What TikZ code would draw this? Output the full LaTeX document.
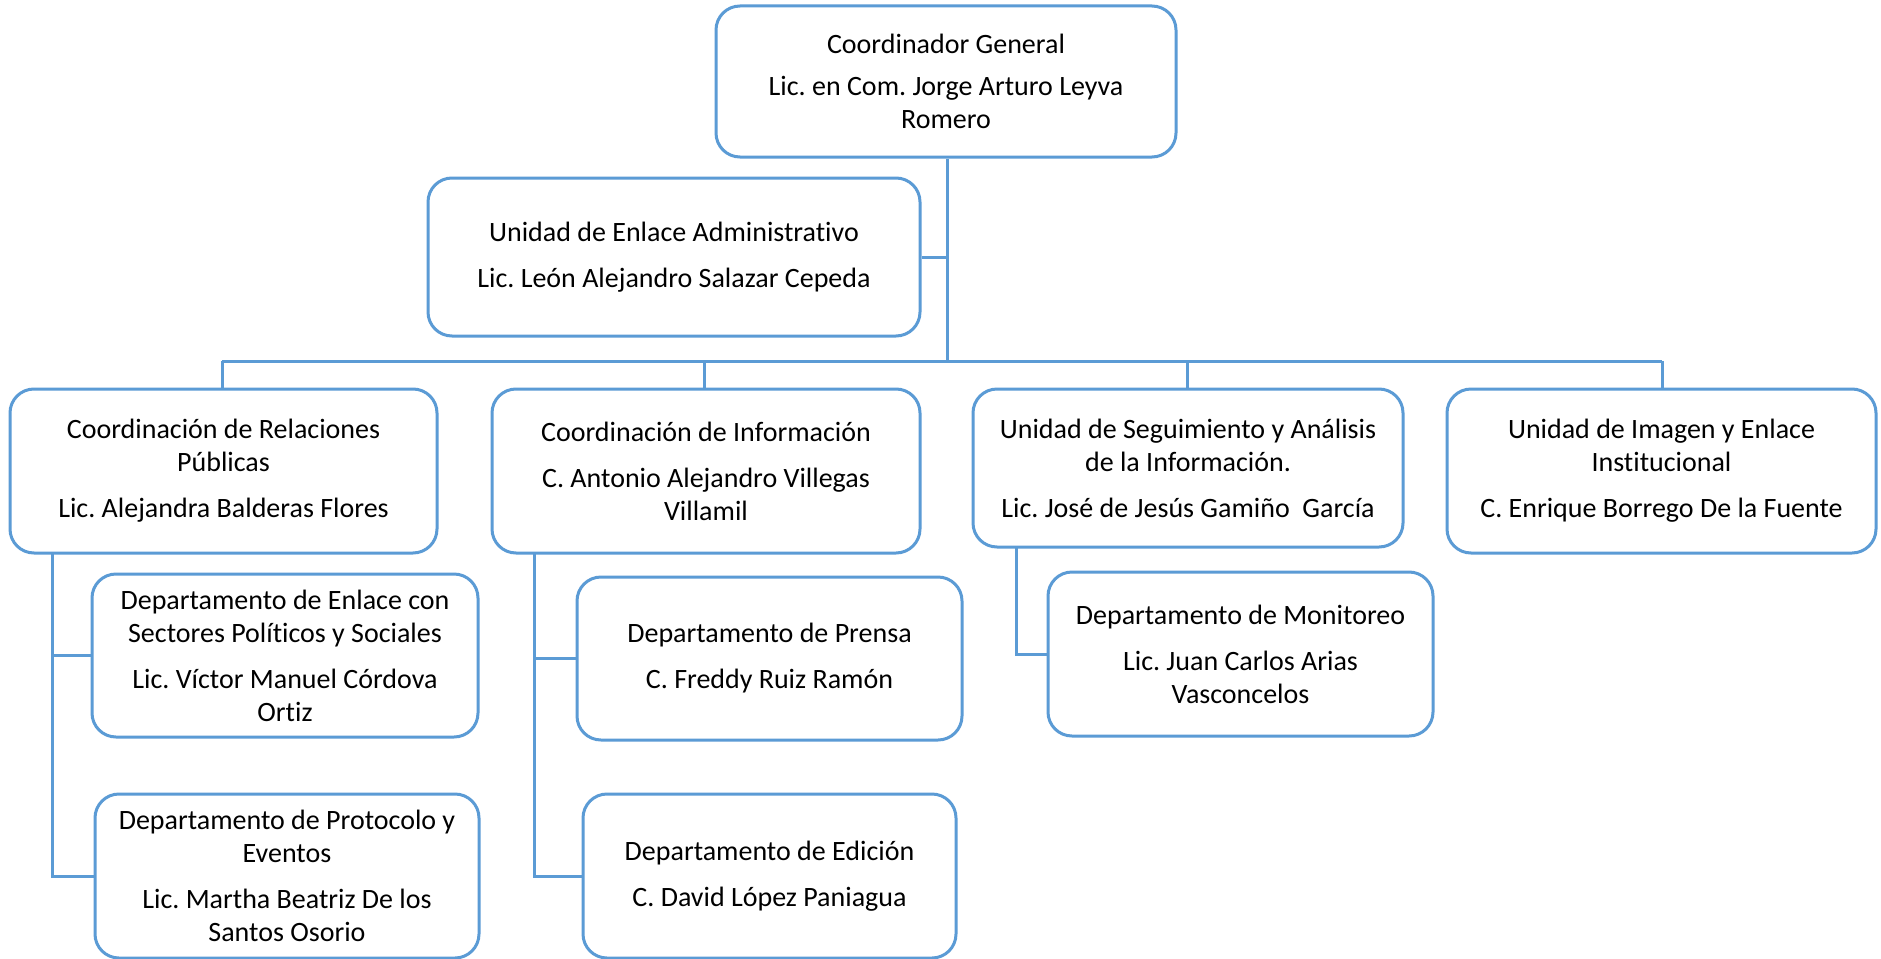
\documentclass[tikz,border=0pt]{standalone}
\usepackage{fontspec}
\setmainfont{Carlito}[RawFeature={-liga}]
\frenchspacing
\definecolor{linkblue}{HTML}{5B9BD5}
\begin{document}
\begin{tikzpicture}[x=1pt,y=-1pt,
  orgbox/.style={draw=linkblue, line width=3pt, fill=white, rounded corners=24pt,
    align=center, inner sep=0pt, font=\fontsize{28}{33}\selectfont, text=black},
  link/.style={draw=linkblue, line width=3pt}]
\useasboundingbox[fill=white] (0,0) rectangle (1881,958);
% boxes
\node[orgbox, minimum width=460pt, minimum height=151pt] (coord) at (946,81.5)
  {Coordinador General\\[9pt]Lic. en Com. Jorge Arturo Leyva\\Romero};
\node[orgbox, minimum width=492pt, minimum height=158pt] (admin) at (674,257)
  {Unidad de Enlace Administrativo\\[13pt]Lic. León Alejandro Salazar Cepeda};
\node[orgbox, minimum width=427pt, minimum height=164pt] (rel) at (223.5,471)
  {Coordinación de Relaciones\\Públicas\\[13pt]Lic. Alejandra Balderas Flores};
\node[orgbox, minimum width=428pt, minimum height=164pt] (info) at (706,471)
  {Coordinación de Información\\[13pt]C. Antonio Alejandro Villegas\\Villamil};
\node[orgbox, minimum width=430pt, minimum height=158pt] (seg) at (1188,468)
  {Unidad de Seguimiento y Análisis\\de la Información.\\[13pt]Lic. José de Jesús Gamiño\ \ García};
\node[orgbox, minimum width=429pt, minimum height=164pt] (img) at (1661.5,471)
  {Unidad de Imagen y Enlace\\Institucional\\[13pt]C. Enrique Borrego De la Fuente};
\node[orgbox, minimum width=386pt, minimum height=163pt] (enl) at (285,655.5)
  {Departamento de Enlace con\\Sectores Políticos y Sociales\\[13pt]Lic. Víctor Manuel Córdova\\Ortiz};
\node[orgbox, minimum width=384pt, minimum height=164pt] (prot) at (287,876)
  {Departamento de Protocolo y\\Eventos\\[13pt]Lic. Martha Beatriz De los\\Santos Osorio};
\node[orgbox, minimum width=385pt, minimum height=163pt] (prensa) at (769.5,658.5)
  {Departamento de Prensa\\[13pt]C. Freddy Ruiz Ramón};
\node[orgbox, minimum width=373pt, minimum height=164pt] (edic) at (769.5,876)
  {Departamento de Edición\\[13pt]C. David López Paniagua};
\node[orgbox, minimum width=385pt, minimum height=164pt] (mon) at (1240.5,654)
  {Departamento de Monitoreo\\[13pt]Lic. Juan Carlos Arias\\Vasconcelos};
% bus coordinates
\coordinate (busC) at (947,361);
\coordinate (busL) at (222,361);
\coordinate (busR) at (1662,361);
\coordinate (adminJ) at (947,257);
\coordinate (relL) at (52,553);
\coordinate (infoL) at (534,553);
\coordinate (segL) at (1016,547);
% connectors
\draw[link] (coord.south -| busC) -- (busC);
\draw[link] (busL) -- (busR);
\draw[link] (admin.east) -- (adminJ);
\draw[link] (busL) -- (busL |- rel.north);
\draw[link] (704,361) -- (704,389) coordinate (infoTop);
\draw[link] (1187,361) -- (1187,389) coordinate (segTop);
\draw[link] (busR) -- (busR |- img.north);
\draw[link] (relL) |- (prot.west);
\draw[link] (relL |- enl.west) -- (enl.west);
\draw[link] (infoL) |- (edic.west);
\draw[link] (infoL |- prensa.west) -- (prensa.west);
\draw[link] (segL) |- (mon.west);
\end{tikzpicture}
\end{document}
